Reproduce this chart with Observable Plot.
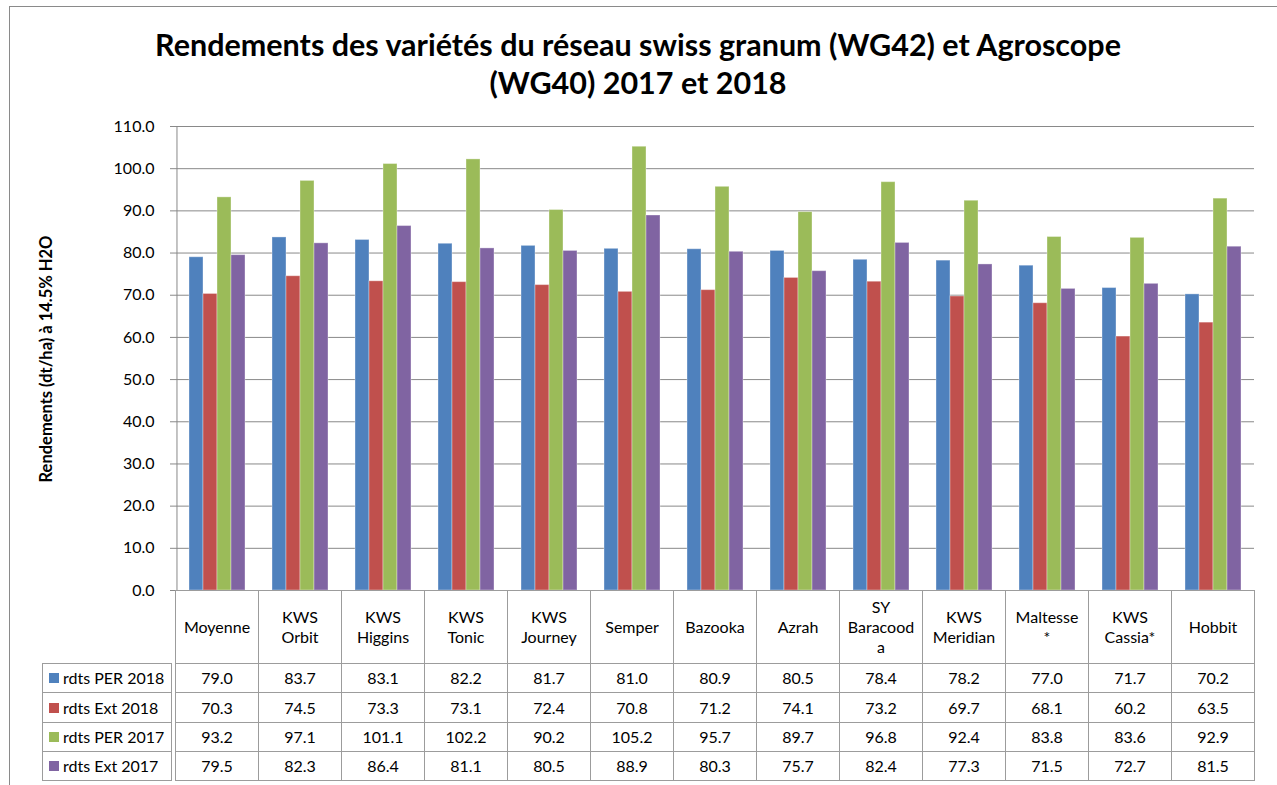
<!DOCTYPE html>
<html><head><meta charset="utf-8">
<script src="https://cdn.jsdelivr.net/npm/d3@7"></script>
<script src="https://cdn.jsdelivr.net/npm/@observablehq/plot@0.6"></script>
<style>
body{margin:0;background:#fff;font-family:Lato,"Open Sans",sans-serif;color:#000;}
#wrap{position:relative;width:1277px;height:785px;overflow:hidden;background:#fff;}
#border{position:absolute;left:9px;top:6px;width:1300px;height:800px;border-left:1px solid #8a8a8a;border-top:1px solid #8a8a8a;}
#title{position:absolute;left:9px;width:1258px;top:25px;text-align:center;font-weight:bold;font-size:30.5px;line-height:38px;}
#ylabel{position:absolute;left:46px;top:359px;transform:translate(-50%,-50%) rotate(-90deg);font-weight:bold;font-size:16.5px;white-space:nowrap;}
#chart{position:absolute;left:0;top:0;}
.cell{position:absolute;box-sizing:border-box;border:1px solid #9c9c9c;display:flex;align-items:center;justify-content:center;text-align:center;font-size:16px;line-height:20px;background:transparent;}
.leg{justify-content:flex-start;padding-left:6px;}
.sw{display:inline-block;width:10px;height:10px;margin-right:4px;}
</style></head>
<body>
<div id="wrap">
  <div id="border"></div>
  <div id="title">Rendements des variétés du réseau swiss granum (WG42) et Agroscope<br>(WG40) 2017 et 2018</div>
  <div id="ylabel">Rendements (dt/ha) à 14.5% H2O</div>
  <div id="chart"></div>
</div>
<script>
const categories = ["Moyenne","KWS\nOrbit","KWS\nHiggins","KWS\nTonic","KWS\nJourney","Semper","Bazooka","Azrah","SY\nBaracood\na","KWS\nMeridian","Maltesse\n*","KWS\nCassia*","Hobbit"];
const seriesNames = ["rdts PER 2018","rdts Ext 2018","rdts PER 2017","rdts Ext 2017"];
const seriesColors = ["#4F81BD","#C0504D","#9BBB59","#8064A2"];
const per2018 = [79.0,83.7,83.1,82.2,81.7,81.0,80.9,80.5,78.4,78.2,77.0,71.7,70.2];
const ext2018 = [70.3,74.5,73.3,73.1,72.4,70.8,71.2,74.1,73.2,69.7,68.1,60.2,63.5];
const per2017 = [93.2,97.1,101.1,102.2,90.2,105.2,95.7,89.7,96.8,92.4,83.8,83.6,92.9];
const ext2017 = [79.5,82.3,86.4,81.1,80.5,88.9,80.3,75.7,82.4,77.3,71.5,72.7,81.5];
const yTicks = [0,10,20,30,40,50,60,70,80,90,100,110];

const seriesValues = [per2018, ext2018, per2017, ext2017];
const data = [];
categories.forEach((c, i) => seriesNames.forEach((s, j) => data.push({cat: c, series: s, value: seriesValues[j][i]})));

const W = 1277, H = 600, mL = 171, mR = 20, mT = 126, mB = 10;
const po = 0.816;
const facetW = (W - mL - mR) / categories.length;
const xStep = facetW / (seriesNames.length + 2 * po);
const grid = "#898989";

const chart = Plot.plot({
  width: W, height: H,
  marginLeft: mL, marginRight: mR, marginTop: mT, marginBottom: mB,
  style: {fontFamily: "Lato, 'Open Sans', sans-serif", background: "transparent", overflow: "visible"},
  fx: {domain: categories, paddingInner: 0, paddingOuter: 0, axis: null, label: null},
  x: {domain: seriesNames, paddingInner: 0, paddingOuter: po, axis: null, label: null},
  y: {domain: [0, 110], label: null},
  color: {domain: seriesNames, range: seriesColors},
  marks: [
    Plot.ruleY(yTicks, {stroke: grid, strokeWidth: 1}),
    Plot.axisY({ticks: yTicks, tickFormat: d3.format(".1f"), tickSize: 5, tickPadding: 16, fontSize: 16, stroke: grid, fill: "#000", label: null}),
    Plot.barY(data, {fx: "cat", x: "series", y: "value", fill: "series", stroke: "#fff", strokeOpacity: 0.35, strokeWidth: 1}),
    Plot.ruleX([seriesNames[0]], {fx: () => categories[0], x: d => d, y1: 0, y2: 110, dx: -(xStep / 2 + po * xStep), stroke: grid})
  ]
});
document.getElementById("chart").appendChild(chart);

// data table aligned to the facet scale
const wrap = document.getElementById("wrap");
const fx = chart.scale("fx");
const bw = fx.bandwidth;
const tableTop = mT + (H - mT - mB);
const headerBottom = 663;
const rowH = 29.25;
const legLeft = 42;
function cell(x1, y1, x2, y2, html, cls) {
  const d = document.createElement("div");
  d.className = "cell" + (cls ? " " + cls : "");
  const l = Math.round(x1), t = Math.round(y1);
  d.style.left = l + "px"; d.style.top = t + "px";
  d.style.width = (Math.round(x2) - l + 1) + "px";
  d.style.height = (Math.round(y2) - t + 1) + "px";
  d.innerHTML = html;
  wrap.appendChild(d);
}
const fxStart = (c) => {
  let v = fx.apply(c);
  if (v < mL - 1) v += mL;
  return v;
};
categories.forEach(c => {
  const x1 = fxStart(c);
  cell(x1, tableTop, x1 + bw, headerBottom, c.split("\n").join("<br>"));
});
seriesNames.forEach((s, j) => {
  const y1 = headerBottom + j * rowH, y2 = headerBottom + (j + 1) * rowH;
  cell(legLeft, y1, mL, y2, `<span class="sw" style="background:${seriesColors[j]}"></span>${s}`, "leg");
  categories.forEach((c, i) => {
    const x1 = fxStart(c);
    cell(x1, y1, x1 + bw, y2, d3.format(".1f")(seriesValues[j][i]));
  });
});
</script>
</body></html>
